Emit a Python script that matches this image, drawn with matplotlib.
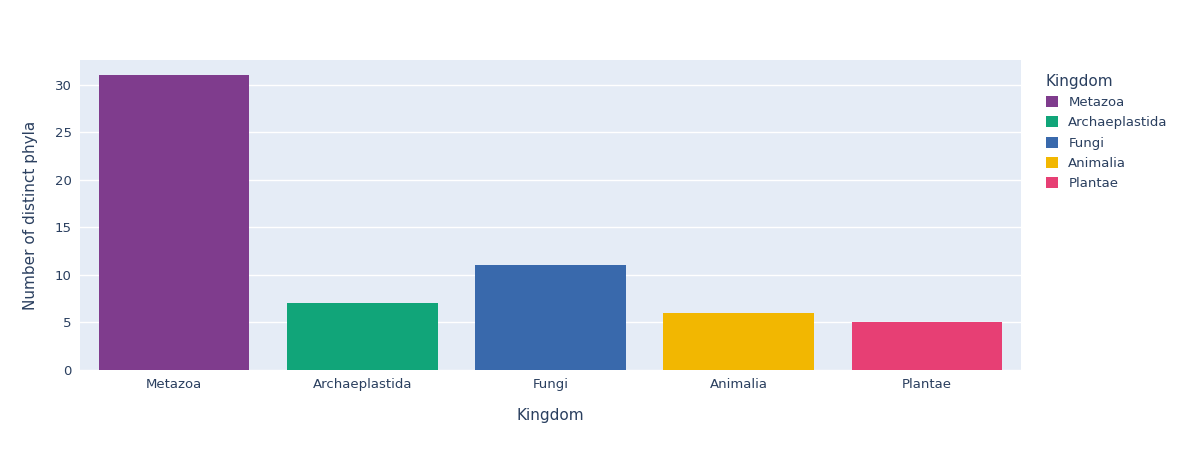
import matplotlib
matplotlib.use("Agg")
import matplotlib.pyplot as plt
from matplotlib.patches import Patch

kingdoms = ["Metazoa", "Archaeplastida", "Fungi", "Animalia", "Plantae"]
counts = [31, 7, 11, 6, 5]
colors = ["#7F3C8D", "#11A579", "#3969AC", "#F2B701", "#E73F74"]

W, H = 1186, 450
fig = plt.figure(figsize=(W/100, H/100), dpi=100)
ax = fig.add_axes([80/W, 80/H, 941/W, 310/H])
ax.set_facecolor("#E5ECF6")
ax.bar(range(len(kingdoms)), counts, width=0.8, color=colors, zorder=2)
ax.set_xlim(-0.5, len(kingdoms)-0.5)
ax.set_ylim(0, 32.6)
ax.set_yticks([0, 5, 10, 15, 20, 25, 30])
ax.set_xticks(range(len(kingdoms)))
ax.set_xticklabels(kingdoms)
ax.grid(axis="y", color="white", linewidth=1, zorder=1)
for s in ax.spines.values():
    s.set_visible(False)
ax.tick_params(length=0, labelsize=9.5, colors="#2a3f5f", pad=6)
ax.set_xlabel("Kingdom", fontsize=11, color="#2a3f5f", labelpad=12)
ax.set_ylabel("Number of distinct phyla", fontsize=11, color="#2a3f5f", labelpad=12)

handles = [Patch(facecolor=c, label=k) for k, c in zip(kingdoms, colors)]
leg = fig.legend(handles=handles, title="Kingdom", loc="upper left",
                 bbox_to_anchor=(1034/W, 1 - 62/H), frameon=False,
                 fontsize=9.5, title_fontsize=11, handlelength=0.9, handleheight=0.9,
                 labelspacing=0.55, alignment="left")
for t in leg.get_texts():
    t.set_color("#2a3f5f")
leg.get_title().set_color("#2a3f5f")
fig.savefig("out.png", dpi=100)
